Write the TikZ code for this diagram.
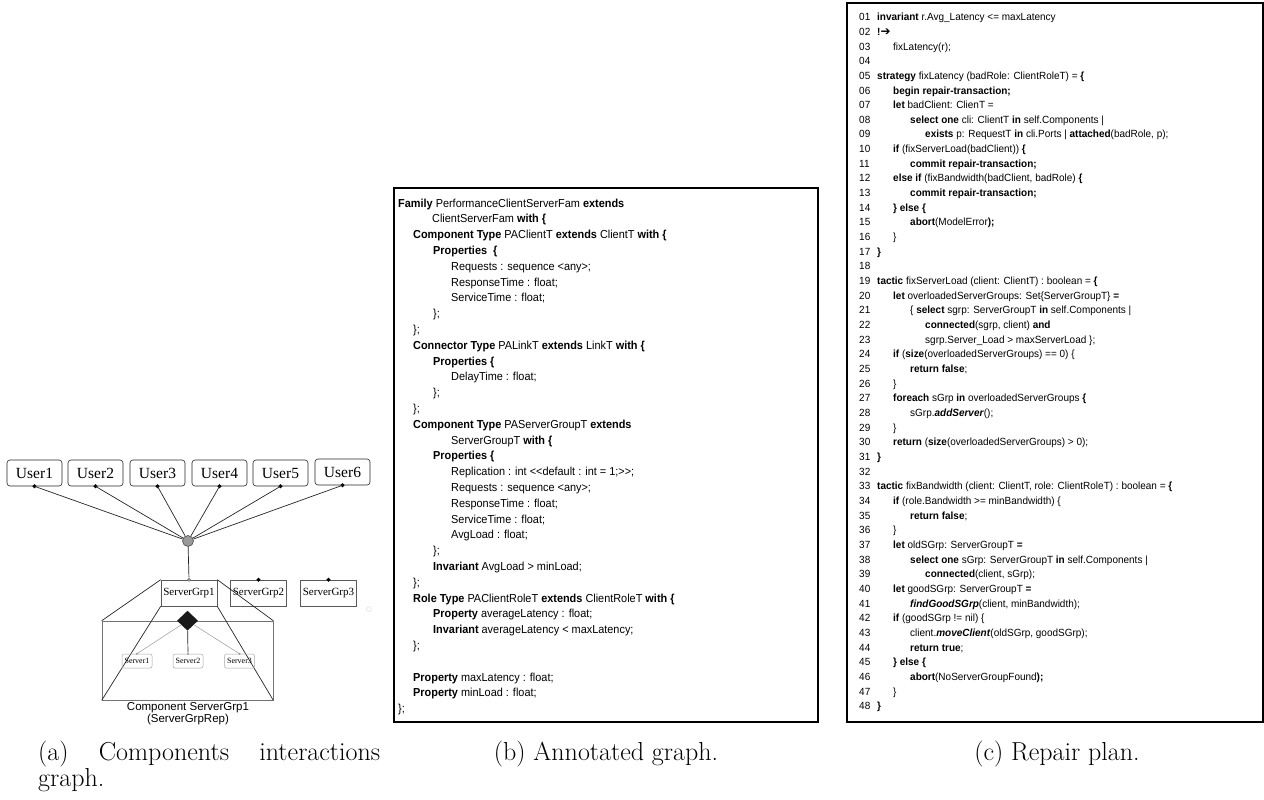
\documentclass[tikz,border=0pt]{standalone}
\usepackage{fontspec}
\usetikzlibrary{shapes.geometric}
\newfontfamily\codefont[FakeStretch=0.94]{Liberation Sans}
\newfontfamily\repfont[FakeStretch=0.96]{Liberation Sans}
\newfontfamily\serifface{Liberation Serif}
\newfontfamily\sansface{Liberation Sans}
\newfontfamily\arrowfont{DejaVu Sans}
\newcommand\kw[1]{\textbf{#1}}
\newcommand\kwi[1]{\textbf{\textit{#1}}}
% one line of the family listing: index, x, text
\newcommand\famline[3]{\node[famcode] (b#1) at (#2,{207+(#1-1)*15.8}) {#3};}
% one numbered line of the repair script: index, label, x, text
\newcommand\repline[4]{%
  \node[repcode] (n#1) at (859,{20.7+(#1-1)*14.66}) {#2};%
  \node[repcode] (r#1) at (#3,{20.7+(#1-1)*14.66}) {#4};}
\newcommand\repnum[2]{\node[repcode] (n#1) at (859,{20.7+(#1-1)*14.66}) {#2};}

\begin{document}
\begin{tikzpicture}[x=1pt,y=-1pt,
  userbox/.style={draw=black!85, line width=0.6pt, rounded corners=3pt,
    minimum width=55pt, minimum height=26pt, inner sep=0pt,
    font=\serifface\fontsize{15.5}{16}\selectfont},
  grpbox/.style={draw=black!65, line width=0.6pt, minimum width=56pt,
    minimum height=26pt, inner sep=0pt, font=\serifface\fontsize{11}{12}\selectfont},
  srvbox/.style={draw=black!35, line width=0.5pt, rounded corners=2pt,
    minimum width=30pt, minimum height=14pt, inner sep=0pt,
    font=\serifface\fontsize{8}{9}\selectfont},
  portdot/.style={diamond, fill=black, inner sep=0pt, minimum size=4.5pt},
  greyport/.style={diamond, fill=black!45, inner sep=0pt, minimum size=4.5pt},
  srvport/.style={circle, fill=black!40, inner sep=0pt, minimum size=2.2pt},
  wire/.style={draw=black!85, line width=0.7pt},
  thinwire/.style={draw=black!40, line width=0.5pt},
  famcode/.style={anchor=base west, inner sep=0pt, font=\codefont\fontsize{11.6}{13}\selectfont},
  repcode/.style={anchor=base west, inner sep=0pt, font=\repfont\fontsize{10.4}{12}\selectfont},
  caption/.style={inner sep=0pt, font=\fontsize{26}{30}\selectfont},
  smallcap/.style={inner sep=0pt, font=\sansface\fontsize{11.5}{13}\selectfont},
  frame/.style={draw=black, line width=1.5pt}
]
\fill[white] (0,0) rectangle (1264,800);
\useasboundingbox (0,0) rectangle (1264,800);

% ---------- components interactions graph ----------
\node[userbox] (u1) at (34.5,473) {User1};
\node[userbox] (u2) at (95.5,473) {User2};
\node[userbox] (u3) at (157.5,473) {User3};
\node[userbox] (u4) at (219.5,473) {User4};
\node[userbox] (u5) at (280.5,473) {User5};
\node[userbox] (u6) at (342.5,472) {User6};
\foreach \i in {1,...,6} {\node[portdot] (p\i) at (u\i.south) {};}

\node[circle, draw=black!70, fill=black!40, line width=0.6pt, minimum size=11pt, inner sep=0pt] (hub) at (188,541) {};
\foreach \i in {1,...,6} {\draw[wire] (p\i.center) -- (hub);}

\node[grpbox] (sg1) at (189,593) {ServerGrp1};
\node[grpbox] (sg2) at (258.5,593) {ServerGrp2};
\node[grpbox] (sg3) at (328.5,593) {ServerGrp3};
\node[greyport] (q1) at (sg1.north) {};
\node[portdot] (q2) at (sg2.north) {};
\node[portdot] (q3) at (sg3.north) {};
\draw[wire] (hub) -- (q1);

% representation of ServerGrp1
\node[draw=black!55, line width=0.6pt, minimum width=171pt, minimum height=79pt, inner sep=0pt] (rep) at (187.5,660.5) {};
\draw[wire] (sg1.north west) -- (rep.north west);
\draw[wire] (sg1.north east) -- (rep.north east);
\draw[wire] (sg1.south west) -- (rep.south west);
\draw[wire] (sg1.south east) -- (rep.south east);

\node[srvbox] (s1) at (137,661) {Server1};
\node[srvbox] (s2) at (188,661) {Server2};
\node[srvbox] (s3) at (239.5,661) {Server3};
\foreach \i in {1,2,3} {\node[srvport] (sp\i) at (s\i.north) {};}
\node[diamond, fill=black!90, inner sep=0pt, minimum width=21pt, minimum height=20pt] (agg) at (rep.north) {};
\draw[thinwire] (agg) -- (sp1);
\draw[wire] (agg) -- (sp2);
\draw[thinwire] (agg) -- (sp3);

\node[smallcap] (replbl1) at (188,708) {Component ServerGrp1};
\node[smallcap] (replbl2) at (188,720) {(ServerGrpRep)};
\node[circle, draw=black!12, line width=0.5pt, minimum size=5pt, inner sep=0pt] (ghost) at (369,609) {};

\node[caption, anchor=base west] (capa1) at (38,760) {\hbox to 342pt{(a)\hfill Components\hfill interactions}};
\node[caption, anchor=base west] (capa2) at (38,786) {graph.};

% ---------- annotated family description ----------
\draw[frame, line width=1.3pt] (394,188) rectangle (818,722);
\famline{1}{398}{\kw{Family} PerformanceClientServerFam \kw{extends}}
\famline{2}{432}{ClientServerFam \kw{with \{}}
\famline{3}{413}{\kw{Component Type} PAClientT \kw{extends} ClientT \kw{with \{}}
\famline{4}{433}{\kw{Properties\ \ \{}}
\famline{5}{451}{Requests : sequence <any>;}
\famline{6}{451}{ResponseTime : float;}
\famline{7}{451}{ServiceTime : float;}
\famline{8}{433}{\};}
\famline{9}{413}{\};}
\famline{10}{413}{\kw{Connector Type} PALinkT \kw{extends} LinkT \kw{with \{}}
\famline{11}{433}{\kw{Properties \{}}
\famline{12}{451}{DelayTime : float;}
\famline{13}{433}{\};}
\famline{14}{413}{\};}
\famline{15}{413}{\kw{Component Type} PAServerGroupT \kw{extends}}
\famline{16}{451}{ServerGroupT \kw{with \{}}
\famline{17}{433}{\kw{Properties \{}}
\famline{18}{451}{Replication : int <\kern0pt<default : int = 1;>\kern0pt>;}
\famline{19}{451}{Requests : sequence <any>;}
\famline{20}{451}{ResponseTime : float;}
\famline{21}{451}{ServiceTime : float;}
\famline{22}{451}{AvgLoad : float;}
\famline{23}{433}{\};}
\famline{24}{433}{\kw{Invariant} AvgLoad > minLoad;}
\famline{25}{413}{\};}
\famline{26}{413}{\kw{Role Type} PAClientRoleT \kw{extends} ClientRoleT \kw{with \{}}
\famline{27}{433}{\kw{Property} averageLatency : float;}
\famline{28}{433}{\kw{Invariant} averageLatency < maxLatency;}
\famline{29}{413}{\};}
\famline{31}{413}{\kw{Property} maxLatency : float;}
\famline{32}{413}{\kw{Property} minLoad : float;}
\famline{33}{398}{\};}
\node[caption, anchor=base] (capb) at (606,760) {(b) Annotated graph.};

% ---------- repair plan ----------
\draw[frame, line width=1.6pt] (847,3) rectangle (1263,722);
\repline{1}{01}{877}{\kw{invariant} r.Avg\_Latency <= maxLatency}
\repline{2}{02}{877}{\kw{!}{\arrowfont\fontsize{12}{12}\selectfont ➔}}
\repline{3}{03}{893}{fixLatency(r);}
\repnum{4}{04}
\repline{5}{05}{877}{\kw{strategy} fixLatency (badRole: ClientRoleT) = \kw{\{}}
\repline{6}{06}{893}{\kw{begin repair-transaction;}}
\repline{7}{07}{893}{\kw{let} badClient: ClienT =}
\repline{8}{08}{910}{\kw{select one} cli: ClientT \kw{in} self.Components |}
\repline{9}{09}{925}{\kw{exists} p: RequestT \kw{in} cli.Ports | \kw{attached}(badRole, p);}
\repline{10}{10}{893}{\kw{if} (fixServerLoad(badClient)) \kw{\{}}
\repline{11}{11}{910}{\kw{commit repair-transaction;}}
\repline{12}{12}{893}{\kw{else if} (fixBandwidth(badClient, badRole) \kw{\{}}
\repline{13}{13}{910}{\kw{commit repair-transaction;}}
\repline{14}{14}{893}{\kw{\} else \{}}
\repline{15}{15}{910}{\kw{abort}(ModelError\kw{);}}
\repline{16}{16}{893}{\}}
\repline{17}{17}{877}{\kw{\}}}
\repnum{18}{18}
\repline{19}{19}{877}{\kw{tactic} fixServerLoad (client: ClientT) : boolean = \kw{\{}}
\repline{20}{20}{893}{\kw{let} overloadedServerGroups: Set\{ServerGroupT\} \kw{=}}
\repline{21}{21}{910}{\{ \kw{select} sgrp: ServerGroupT \kw{in} self.Components |}
\repline{22}{22}{925}{\kw{connected}(sgrp, client) \kw{and}}
\repline{23}{23}{925}{sgrp.Server\_Load > maxServerLoad \};}
\repline{24}{24}{893}{\kw{if} (\kw{size}(overloadedServerGroups) == 0) \{}
\repline{25}{25}{910}{\kw{return false};}
\repline{26}{26}{893}{\}}
\repline{27}{27}{893}{\kw{foreach} sGrp \kw{in} overloadedServerGroups \kw{\{}}
\repline{28}{28}{910}{sGrp.\kwi{addServer}();}
\repline{29}{29}{893}{\}}
\repline{30}{30}{893}{\kw{return} (\kw{size}(overloadedServerGroups) > 0);}
\repline{31}{31}{877}{\kw{\}}}
\repnum{32}{32}
\repline{33}{33}{877}{\kw{tactic} fixBandwidth (client: ClientT, role: ClientRoleT) : boolean = \kw{\{}}
\repline{34}{34}{893}{\kw{if} (role.Bandwidth >= minBandwidth) \{}
\repline{35}{35}{910}{\kw{return false};}
\repline{36}{36}{893}{\}}
\repline{37}{37}{893}{\kw{let} oldSGrp: ServerGroupT \kw{=}}
\repline{38}{38}{910}{\kw{select one} sGrp: ServerGroupT \kw{in} self.Components |}
\repline{39}{39}{925}{\kw{connected}(client, sGrp);}
\repline{40}{40}{893}{\kw{let} goodSGrp: ServerGroupT \kw{=}}
\repline{41}{41}{910}{\kwi{findGoodSGrp}(client, minBandwidth);}
\repline{42}{42}{893}{\kw{if} (goodSGrp != nil) \{}
\repline{43}{43}{910}{client.\kwi{moveClient}(oldSGrp, goodSGrp);}
\repline{44}{44}{910}{\kw{return true};}
\repline{45}{45}{893}{\kw{\} else \{}}
\repline{46}{46}{910}{\kw{abort}(NoServerGroupFound\kw{);}}
\repline{47}{47}{893}{\}}
\repline{48}{48}{877}{\kw{\}}}
\node[caption, anchor=base] (capc) at (1057,760) {(c) Repair plan.};
\end{tikzpicture}
\end{document}
